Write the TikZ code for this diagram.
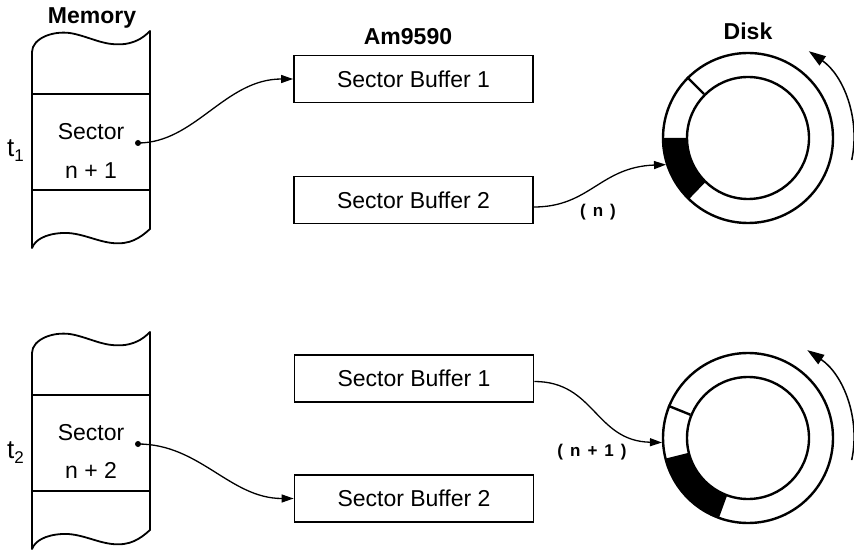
\documentclass[tikz,border=0pt]{standalone}
\usepackage{fontspec}
\setmainfont{Liberation Sans}
\usetikzlibrary{arrows.meta}
\begin{document}
\begin{tikzpicture}[x=1pt,y=1pt,
  lbl/.style={font=\fontsize{23}{23}\selectfont\bfseries, anchor=base, inner sep=0pt},
  txt/.style={font=\fontsize{23}{23}\selectfont, anchor=base, inner sep=0pt},
  tlab/.style={font=\fontsize{26}{26}\selectfont, anchor=base west, inner sep=0pt},
  buf/.style={draw, line width=1.8pt, minimum width=239pt, minimum height=47pt, inner sep=0pt, font=\fontsize{23}{23}\selectfont},
  outline/.style={line width=1.8pt, line join=round},
  conn/.style={line width=1.3pt, -{Triangle[length=12pt,width=8pt]}},
  dotn/.style={circle, fill, inner sep=0pt, minimum size=6pt},
  disko/.style={circle, draw, line width=2.4pt, minimum size=170pt, inner sep=0pt},
  diski/.style={circle, draw, line width=2.4pt, minimum size=122pt, inner sep=0pt},
  rot/.style={line width=1.5pt, -{Triangle[length=17pt,width=11pt]}},
  seq/.style={font=\fontsize{17}{17}\selectfont\bfseries, inner sep=0pt}
]
\useasboundingbox (0,0) rectangle (854,555);

% memory columns
\foreach \dy in {0,-301}{
\begin{scope}[yshift=\dy]
\draw[outline] (32,307) -- (32,503) .. controls (32,517) and (55,526) .. (75,521)
  .. controls (95,516) and (105,509) .. (125,511)
  .. controls (138,513) and (145,519) .. (150,524) -- (150,326)
  .. controls (140,317) and (130,310) .. (112,312)
  .. controls (95,314) and (80,323) .. (62,322)
  .. controls (45,321) and (35,315) .. (32,307) -- cycle;
\draw[outline] (32,461) -- (150,461);
\draw[outline] (32,365) -- (150,365);
\end{scope}
}

% labels
\node[lbl] (memlab) at (92,531) {Memory};
\node[lbl] (amlab) at (408,510) {Am9590};
\node[lbl] (disklab) at (748,515) {Disk};

% memory texts
\node[txt] (sec1) at (91,415) {Sector};
\node[txt] (num1) at (91,376) {n + 1};
\node[txt] (sec2) at (91,115) {Sector};
\node[txt] (num2) at (91,77) {n + 2};
\node[tlab] (t1lab) at (7,398) {t\raisebox{-5pt}{\fontsize{17}{17}\selectfont 1}};
\node[tlab] (t2lab) at (7,97) {t\raisebox{-5pt}{\fontsize{17}{17}\selectfont 2}};

% dots
\node[dotn] (d1) at (138,412) {};
\node[dotn] (d2) at (138,111) {};

% buffers
\node[buf] (b1t) at (413.5,476) {Sector Buffer 1};
\node[buf] (b2t) at (413.5,355) {Sector Buffer 2};
\node[buf] (b1b) at (414,176.5) {Sector Buffer 1};
\node[buf] (b2b) at (414,56.5) {Sector Buffer 2};

% disks: dark sectors
\fill[shift={(748,417)}] (180:85) arc[start angle=180,end angle=226,radius=85] -- (226:61) arc[start angle=226,end angle=180,radius=61] -- cycle;
\fill[shift={(748,117)}] (194:85) arc[start angle=194,end angle=250,radius=85] -- (250:61) arc[start angle=250,end angle=194,radius=61] -- cycle;
\node[disko] (disk1) at (748,417) {};
\node[diski] (in1) at (748,417) {};
\node[disko] (disk2) at (748,117) {};
\node[diski] (in2) at (748,117) {};
\draw[line width=2.4pt] (in1.135) -- (disk1.135);
\draw[line width=2.4pt] (in2.158) -- (disk2.158);

% rotation arrows
\draw[rot] ([shift={(-12:106)}]disk1.center) arc[start angle=-12, end angle=55, radius=106];
\draw[rot] ([shift={(-12:106)}]disk2.center) arc[start angle=-12, end angle=56, radius=106];

% connectors
\draw[conn] (d1.center) .. controls (195,412) and (225,476) .. (b1t.west);
\draw[conn] (d2.center) .. controls (200,111) and (230,56.5) .. (b2b.west);
\coordinate (o1) at ([yshift=-7pt]b2t.east);
\coordinate (o2) at ([yshift=-3pt]b1b.east);
\draw[conn] (o1) .. controls (590,348) and (600,388) .. (disk1.198);
\draw[conn] (o2) .. controls (595,173.5) and (595,114) .. (disk2.183);

\node[seq] (lab1) at (598,343) {(\hspace{7pt}n\hspace{7pt})};
\node[seq] (lab2) at (592,103) {(\hspace{7pt}n\hspace{7pt}+\hspace{7pt}1\hspace{7pt})};
\end{tikzpicture}
\end{document}
